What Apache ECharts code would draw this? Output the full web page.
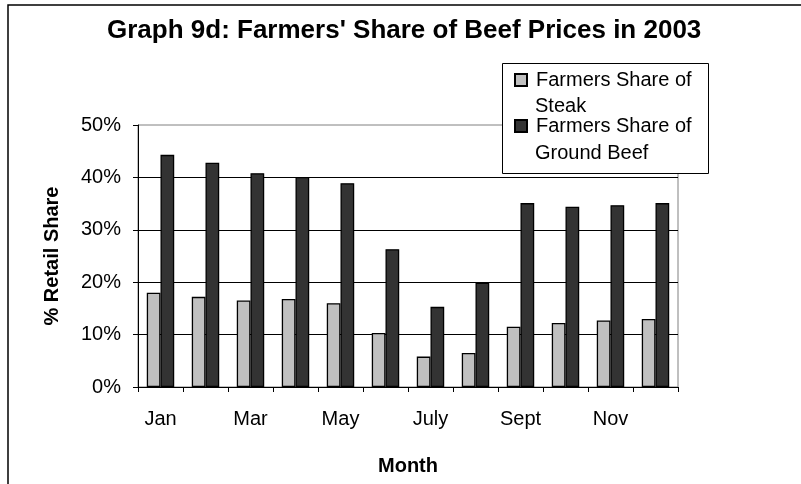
<!DOCTYPE html>
<html>
<head>
<meta charset="utf-8">
<script src="https://cdn.jsdelivr.net/npm/echarts@6/dist/echarts.min.js"></script>
<style>
html,body{margin:0;padding:0;background:#fff;}
#chart{width:801px;height:484px;}
</style>
</head>
<body>
<div id="chart"></div>
<script>
var titleText = "Graph 9d: Farmers' Share of Beef Prices in 2003";
var months = ['Jan','Feb','Mar','Apr','May','June','July','Aug','Sept','Oct','Nov','Dec'];
var steakName = 'Farmers Share of Steak';
var groundName = 'Farmers Share of Ground Beef';
var steakShare = [18.0, 17.2, 16.5, 16.8, 16.0, 10.3, 5.8, 6.5, 11.5, 12.2, 12.7, 13.0];
var groundShare = [44.3, 42.8, 40.8, 40.1, 38.9, 26.3, 15.3, 19.9, 35.1, 34.4, 34.7, 35.1];
var yTicks = [0, 10, 20, 30, 40, 50];
var yAxisTitle = '% Retail Share';
var xAxisTitle = 'Month';

var FONT = 'Liberation Sans, Arial, sans-serif';
var chart = echarts.init(document.getElementById('chart'), null, {renderer: 'canvas'});
chart.setOption({
  animation: false,
  backgroundColor: '#ffffff',
  title: {
    text: titleText,
    left: 107,
    top: 18,
    padding: 0,
    textStyle: {fontFamily: FONT, fontSize: 26, fontWeight: 'bold', color: '#000'}
  },
  grid: {
    left: 138, right: 123, top: 125, bottom: 97,
    show: true, borderColor: '#808080', borderWidth: 1, backgroundColor: 'transparent'
  },
  legend: {
    orient: 'vertical',
    left: 514,
    top: 70,
    padding: 0,
    icon: 'rect',
    itemWidth: 12,
    itemHeight: 12,
    itemGap: 26,
    z: 5,
    selectedMode: false,
    data: [steakName, groundName],
    formatter: function () { return 'Farmers Share of'; },
    textStyle: {fontFamily: FONT, fontSize: 20, color: '#000', lineHeight: 20, padding: [0, 0, 0, 4]}
  },
  xAxis: {
    type: 'category',
    data: months,
    name: xAxisTitle,
    nameLocation: 'middle',
    nameGap: 69,
    nameTextStyle: {fontFamily: FONT, fontSize: 20, fontWeight: 'bold', color: '#000'},
    axisLine: {show: true, lineStyle: {color: '#000', width: 1}},
    axisTick: {show: true, length: 5, inside: false, alignWithLabel: false, interval: 0, lineStyle: {color: '#000'}},
    axisLabel: {interval: 1, margin: 22, fontFamily: FONT, fontSize: 20, color: '#000'},
    splitLine: {show: false}
  },
  yAxis: {
    type: 'value',
    min: 0, max: 50, interval: 10,
    name: yAxisTitle,
    nameLocation: 'middle',
    nameGap: 76,
    nameRotate: 90,
    nameTextStyle: {fontFamily: FONT, fontSize: 20, fontWeight: 'bold', color: '#000'},
    axisLine: {show: true, lineStyle: {color: '#000', width: 1}},
    axisTick: {show: true, length: 5, inside: false, lineStyle: {color: '#000'}},
    axisLabel: {margin: 17, fontFamily: FONT, fontSize: 20, color: '#000',
      formatter: function (v) { return yTicks.indexOf(v) >= 0 ? v + '%' : ''; }},
    splitLine: {show: true, showMinLine: false, showMaxLine: false, lineStyle: {color: '#000', width: 1}}
  },
  series: [
    {
      name: steakName, type: 'bar', data: steakShare,
      barGap: '0%', barCategoryGap: '39%',
      itemStyle: {color: '#C0C0C0', borderColor: '#000', borderWidth: 1.3}
    },
    {
      name: groundName, type: 'bar', data: groundShare,
      barGap: '0%', barCategoryGap: '39%',
      itemStyle: {color: '#333333', borderColor: '#000', borderWidth: 1.3}
    }
  ],
  graphic: [
    {type: 'rect', z: 0, silent: true, shape: {x: 8, y: 5, width: 1000, height: 1000},
     style: {fill: 'none', stroke: '#000', lineWidth: 1.5}},
    {type: 'rect', z: 3, silent: true, shape: {x: 502.5, y: 63.5, width: 206, height: 110},
     style: {fill: '#fff', stroke: '#000', lineWidth: 1}},
    {type: 'text', z: 6, silent: true, left: 535, top: 96,
     style: {text: 'Steak', font: '20px ' + FONT, fill: '#000'}},
    {type: 'text', z: 6, silent: true, left: 535, top: 143,
     style: {text: 'Ground Beef', font: '20px ' + FONT, fill: '#000'}}
  ]
});
</script>
</body>
</html>
